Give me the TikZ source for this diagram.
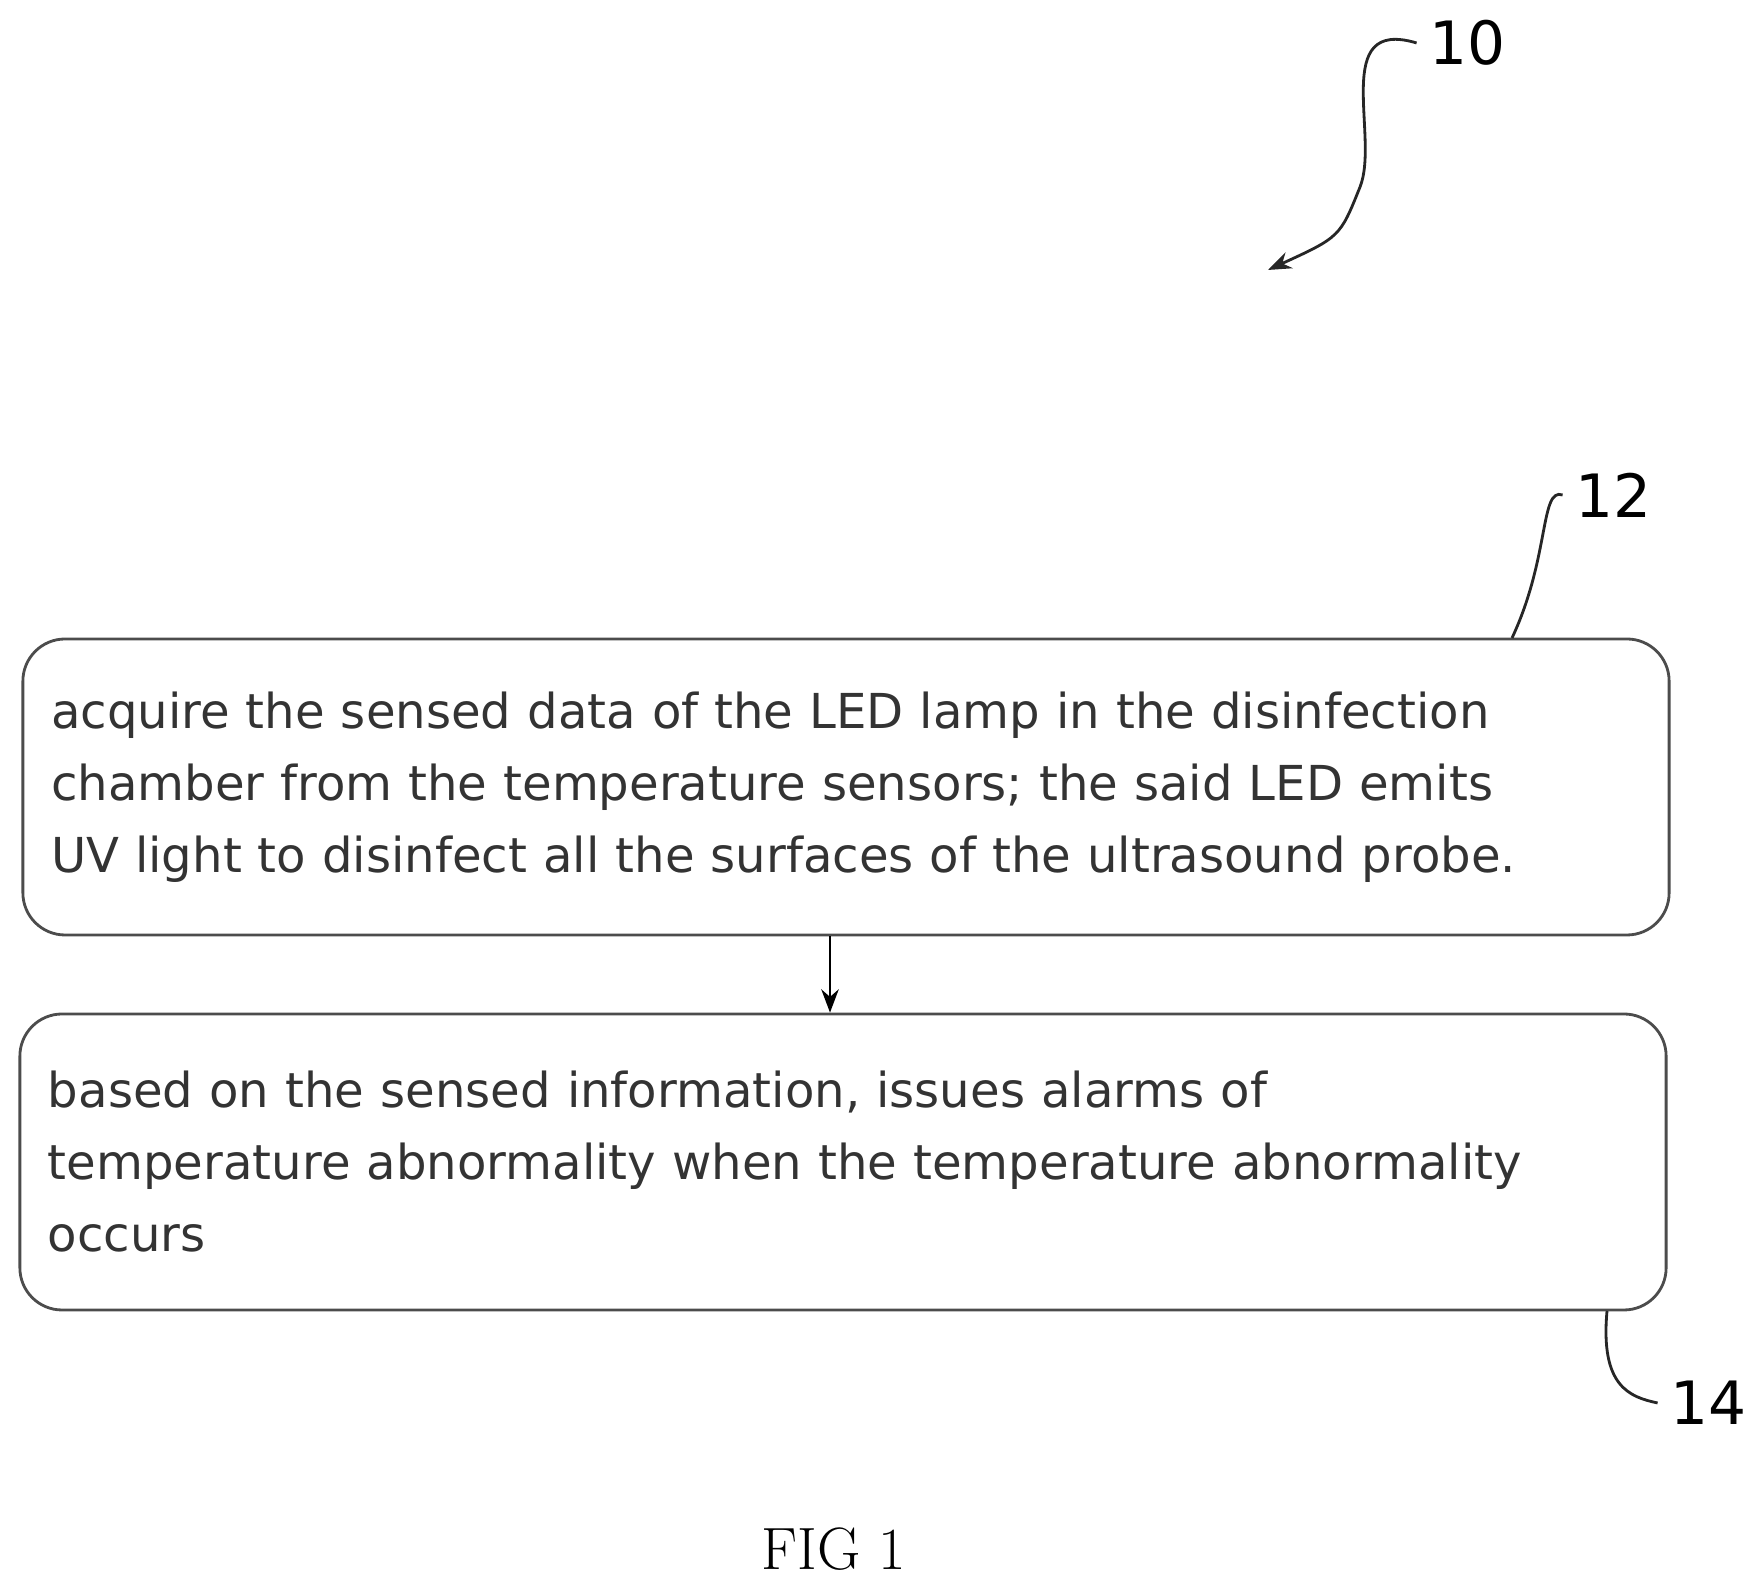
\documentclass[tikz,border=0pt]{standalone}
\usepackage{fontspec}
\setsansfont{DejaVu Sans}
\usetikzlibrary{arrows.meta}
\tikzset{
	stepbox/.style={draw=black!70, thick, rounded corners=12pt, align=left,
		text width=15.9cm, minimum width=16.42cm, minimum height=2.96cm,
		inner sep=8pt, font=\sffamily\fontsize{13.7}{20.5}\selectfont, text=black!80},
	leader/.style={thick, black!85},
	reflabel/.style={font=\sffamily\fontsize{17}{17}\selectfont}
}
\begin{document}
\begin{tikzpicture}[>=Stealth]
	\useasboundingbox (0,0) rectangle (17.53,15.77);

	\node[stepbox] (acquire) at (8.46,7.90) {acquire the sensed data of the LED lamp in the disinfection\\ chamber from the temperature sensors; the said LED emits\\ UV light to disinfect all the surfaces of the ultrasound probe.};
	\node[stepbox] (alarm) at (8.43,4.15) {based on the sensed information, issues alarms of\\ temperature abnormality when the temperature abnormality\\ occurs};

	\draw[->, thick] (acquire.south -| 8.30,0) -- (alarm.north -| 8.30,0);

	% reference numerals
	\node[reflabel] (n10) at (14.67,15.34) {10};
	\node[reflabel] (n12) at (16.13,10.82) {12};
	\node[reflabel] (n14) at (17.08,1.74) {14};
	\coordinate (tip10) at (12.68,13.07);

	\draw[leader, ->] (n10.west) .. controls (13.3,15.6) and (13.8,14.4) .. (13.6,13.9)
		.. controls (13.4,13.4) .. (tip10);
	\draw[leader] (n12.west) .. controls (15.4,10.9) and (15.5,10.2) .. (15.12,9.39);
	\draw[leader] (16.07,2.66) .. controls (16.0,1.9) and (16.3,1.8) .. (n14.west);

	\node[font=\fontsize{17}{17}\selectfont] (fig) at (8.34,0.28) {FIG 1};
\end{tikzpicture}
\end{document}
